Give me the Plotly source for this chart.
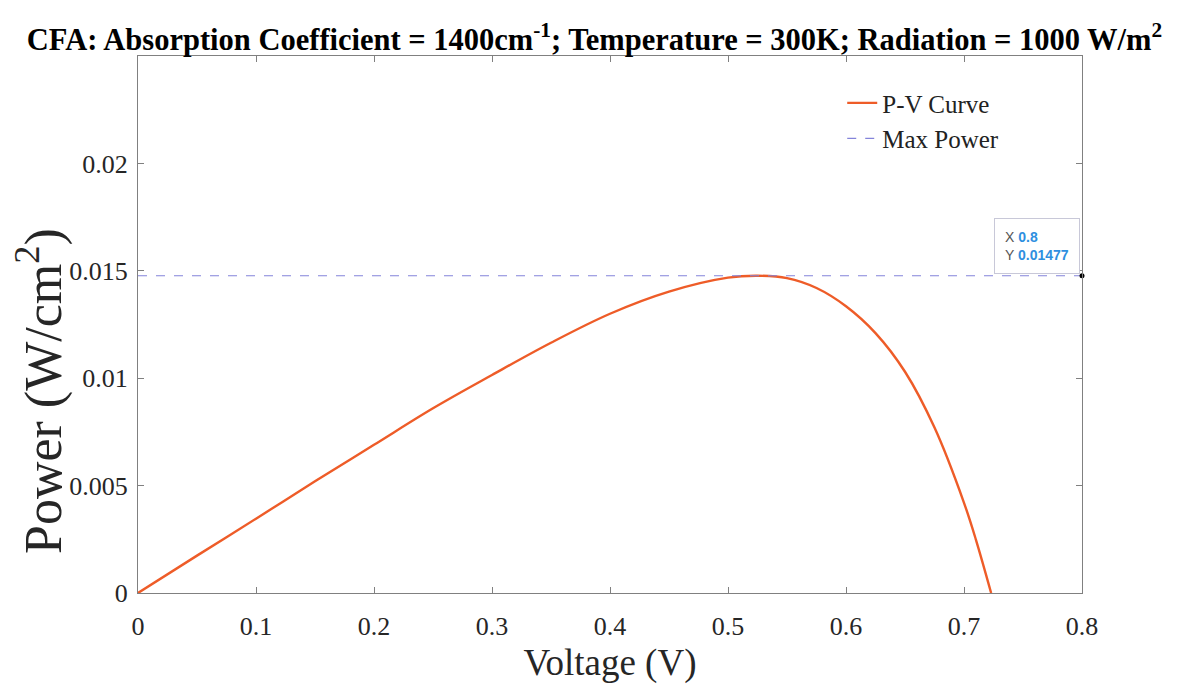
import plotly.graph_objects as go

# P-V curve data
voltage = [0, 0.05, 0.1, 0.15, 0.2, 0.25, 0.3, 0.35, 0.4, 0.45, 0.5, 0.525,
           0.55, 0.575, 0.6, 0.625, 0.65, 0.675, 0.7, 0.71, 0.723]
power = [0, 0.00174, 0.00346, 0.0052, 0.0069, 0.0086, 0.01015, 0.01165, 0.0130,
         0.01403, 0.01468, 0.01477, 0.01466, 0.01420, 0.01335, 0.0121, 0.0103,
         0.0077, 0.0042, 0.0025, 0.0]

max_power = 0.01477
mp_v = [0, 0.8]
mp_p = [max_power, max_power]
tip_v = [0.8]
tip_p = [max_power]

x_ticks = [0, 0.1, 0.2, 0.3, 0.4, 0.5, 0.6, 0.7, 0.8]
x_tick_text = ["0", "0.1", "0.2", "0.3", "0.4", "0.5", "0.6", "0.7", "0.8"]
y_ticks = [0, 0.005, 0.01, 0.015, 0.02]
y_tick_text = ["0", "0.005", "0.01", "0.015", "0.02"]

serif = "Liberation Serif, Times New Roman, serif"
axis_col = "#808080"

fig = go.Figure()
fig.add_trace(go.Scatter(x=voltage, y=power, mode="lines", name="P-V Curve",
                         line=dict(color="#EE5C28", width=2.4, shape="spline", smoothing=1.0)))
fig.add_trace(go.Scatter(x=mp_v, y=mp_p, mode="lines", name="Max Power",
                         line=dict(color="#8484DA", width=1.2, dash="dash")))
fig.add_trace(go.Scatter(x=tip_v, y=tip_p, mode="markers", showlegend=False,
                         marker=dict(color="black", size=5), cliponaxis=False))

fig.add_annotation(x=0.8, y=max_power, xref="x", yref="y",
                   text="X <b><span style='color:#2E8FE0'>0.8</span></b><br>Y <b><span style='color:#2E8FE0'>0.01477</span></b>",
                   showarrow=False, xanchor="right", yanchor="bottom", yshift=2, xshift=-2,
                   align="left", font=dict(family="Liberation Sans, Arial", size=14, color="#555555"),
                   bgcolor="white", bordercolor="#C8C8D8", borderwidth=1, borderpad=10)

plot_w = 1189 - 138 - 107
plot_h = 684 - 56 - 91
# y-axis title as rotated annotation (positioned like the reference)
fig.add_annotation(x=(40 - 138) / plot_w, y=(684 - 91 - 391) / plot_h, xref="paper", yref="paper",
                   text="Power (W/cm<sup>2</sup>)",
                   showarrow=False, textangle=-90, xanchor="center", yanchor="middle",
                   font=dict(family=serif, size=52, color="#262626"))

fig.update_layout(
    width=1189, height=684,
    paper_bgcolor="white", plot_bgcolor="white",
    margin=dict(l=138, r=107, t=56, b=91),
    title=dict(text="<b>CFA: Absorption Coefficient = 1400cm<sup>-1</sup>; Temperature = 300K; Radiation = 1000 W/m<sup>2</sup></b>",
               x=0.5, xanchor="center", y=0.958, yanchor="top",
               font=dict(family=serif, size=30.5, color="black"), automargin=False),
    legend=dict(x=0.746, y=0.955, xanchor="left", yanchor="top",
                font=dict(family=serif, size=25, color="#222222"),
                bgcolor="rgba(255,255,255,0)", borderwidth=0, tracegroupgap=0),
    showlegend=True,
)

fig.update_xaxes(range=[0, 0.8], tickvals=x_ticks, ticktext=x_tick_text, automargin=False,
                 ticks="inside", ticklen=6, tickcolor=axis_col, showline=True, linecolor=axis_col,
                 linewidth=1, mirror="ticks", showgrid=False, zeroline=False, ticklabelstandoff=10,
                 tickfont=dict(family=serif, size=26, color="#262626"),
                 title=dict(text="Voltage (V)", font=dict(family=serif, size=37, color="#262626"), standoff=12))
fig.update_yaxes(range=[0, 0.025], tickvals=y_ticks, ticktext=y_tick_text, automargin=False,
                 ticks="inside", ticklen=6, tickcolor=axis_col, showline=True, linecolor=axis_col,
                 linewidth=1, mirror="ticks", showgrid=False, zeroline=False, ticklabelstandoff=4,
                 tickfont=dict(family=serif, size=26, color="#262626"))

fig.write_html("out.html")
